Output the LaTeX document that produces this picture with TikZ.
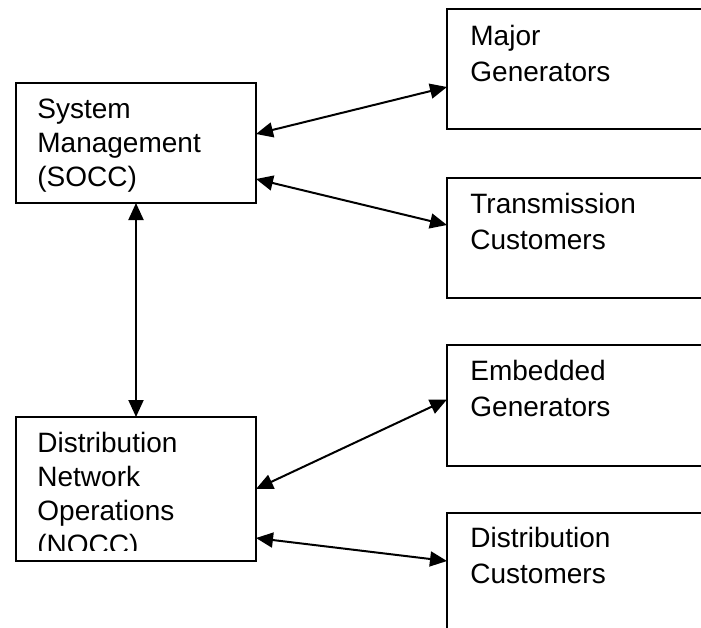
\documentclass[tikz,border=0pt]{standalone}
\usepackage{fontspec}
\setmainfont{Liberation Sans}
\usetikzlibrary{calc, positioning, arrows.meta}

\begin{document}
\begin{tikzpicture}
      [x=0.5pt, y=-0.5pt,
       block/.style={draw, rectangle, line width=1pt, inner sep=0pt, outer sep=0pt,
                     anchor=north west, minimum width=120pt, minimum height=60pt},
       wideblock/.style={block, minimum width=140pt},
       boxtext/.style={anchor=base west, align=left, inner sep=0pt,
                       font=\fontsize{14pt}{17pt}\selectfont},
       widetext/.style={boxtext, font=\fontsize{14pt}{18pt}\selectfont},
       link/.style={{Triangle[length=8.5pt,width=7.5pt]}-{Triangle[length=8.5pt,width=7.5pt]},
                    line width=1pt}]

      \path[use as bounding box, clip] (0,0) rectangle (701,627);

      %nodes
      \node[block] (socc) at (16,83) {};
      \node[block, minimum height=72pt] (nocc) at (16,417) {};
      \node[wideblock] (major) at (447,9) {};
      \node[wideblock] (trans) at (447,178) {};
      \node[wideblock, minimum height=60.5pt] (embed) at (447,345) {};
      \node[wideblock] (distcust) at (447,513) {};

      % labels (placed by the baseline of their last line) %
      \node[boxtext] (socctext) at ($(socc.north west)+(21,103)$) {System\\Management\\(SOCC)};
      \begin{scope}
        \clip (nocc.north west) rectangle ($(nocc.south east)+(0,-11)$);
        \node[boxtext] (nocctext) at ($(nocc.north west)+(21,137)$) {Distribution\\Network\\Operations\\(NOCC)};
      \end{scope}
      \node[widetext] (majortext) at ($(major.north west)+(23,72)$) {Major\\Generators};
      \node[widetext] (transtext) at ($(trans.north west)+(23,71)$) {Transmission\\Customers};
      \node[widetext] (embedtext) at ($(embed.north west)+(23,71)$) {Embedded\\Generators};
      \node[widetext] (distcusttext) at ($(distcust.north west)+(23,70)$) {Distribution\\Customers};

      % edges %
      \draw[link] ($(socc.east)+(0,-9)$) -- ($(major.west)+(0,18)$);
      \draw[link] ($(socc.east)+(0,36)$) -- ($(trans.west)+(0,-13)$);
      \draw[link] (socc.south) -- (nocc.north);
      \draw[link] (nocc.east) -- ($(embed.west)+(0,-6)$);
      \draw[link] ($(nocc.east)+(0,49)$) -- ($(distcust.west)+(0,-12)$);
    \end{tikzpicture}
\end{document}
